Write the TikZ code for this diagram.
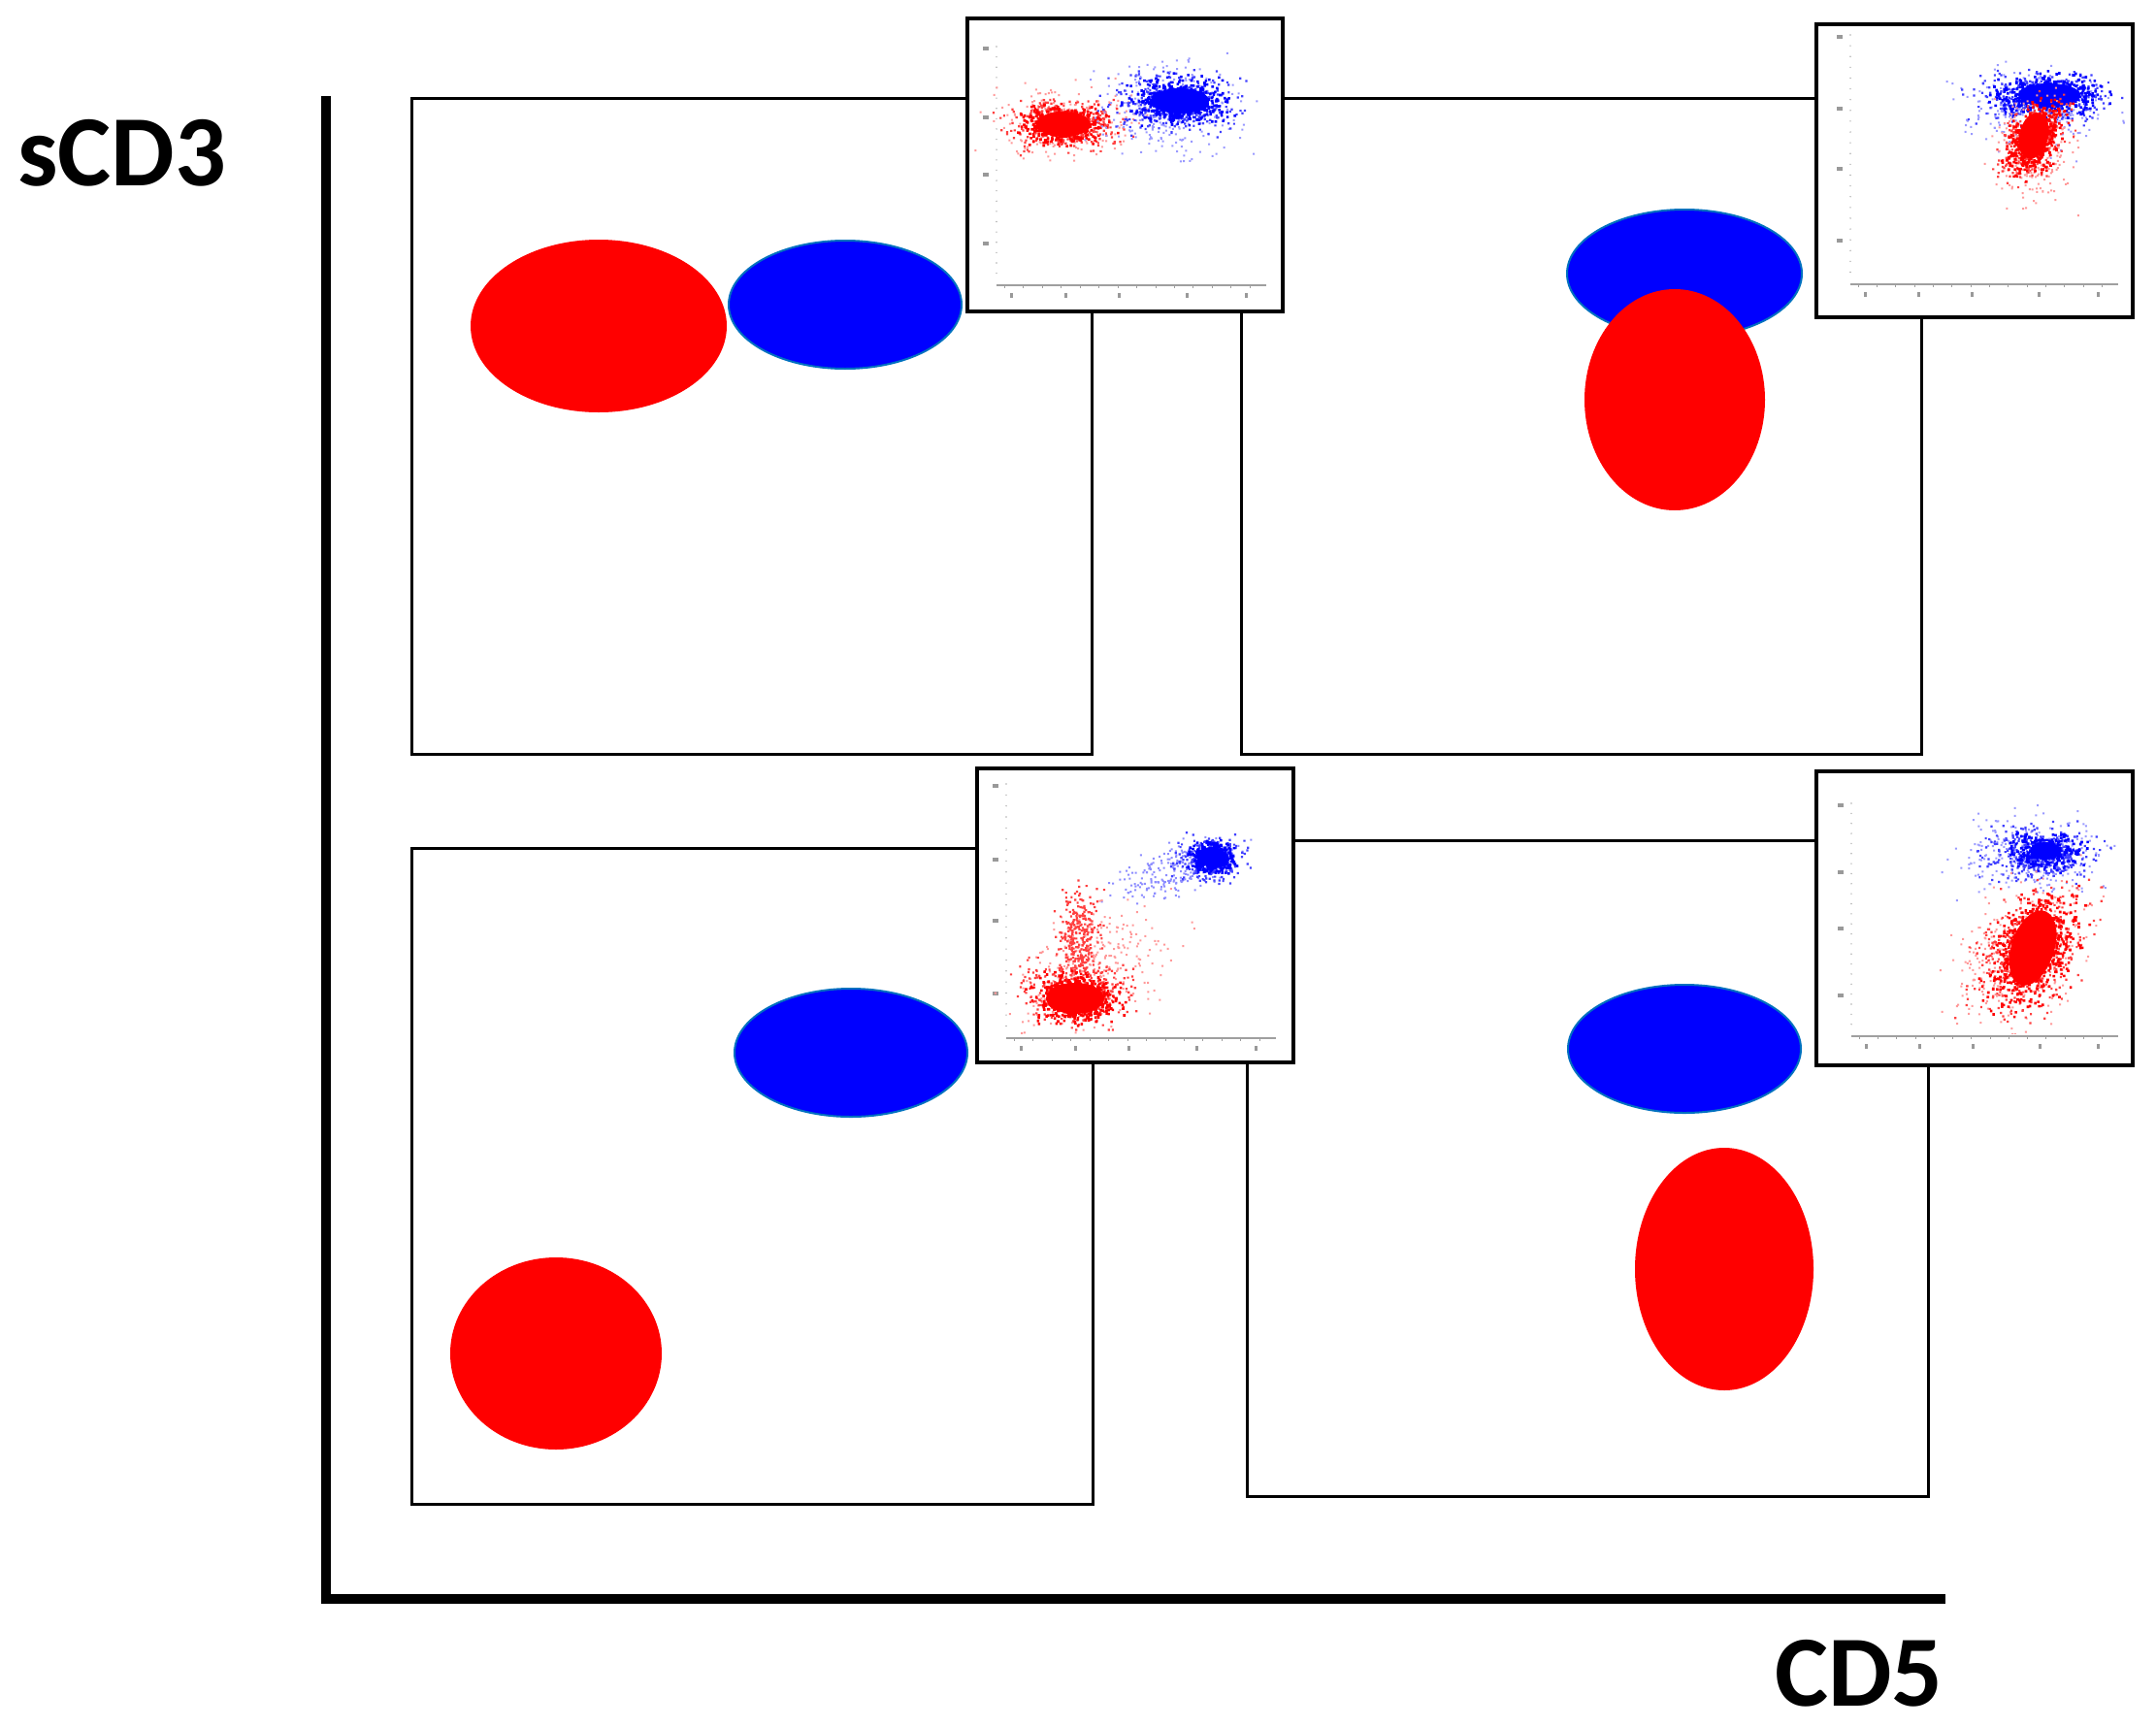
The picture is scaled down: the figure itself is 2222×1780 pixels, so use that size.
\documentclass[tikz,border=0pt]{standalone}
\usepackage{fontspec}
\setmainfont{Carlito}
\usetikzlibrary{shapes.geometric}
\definecolor{popred}{RGB}{255,0,0}
\definecolor{popblue}{RGB}{0,0,255}
\definecolor{popedge}{RGB}{0,112,192}
\tikzset{
  panel/.style={draw=black, line width=3pt, line join=miter},
  inset/.style={draw=black, fill=white, line width=4pt, rectangle, inner sep=0pt, line join=miter},
  redpop/.style={ellipse, fill=popred, draw=none, inner sep=0pt},
  bluepop/.style={ellipse, fill=popblue, draw=popedge, line width=2pt, inner sep=0pt},
  axislabel/.style={anchor=base west, inner sep=0pt, font=\fontsize{104}{104}\selectfont\bfseries}
}
% cluster: cx cy sx sy slope n colour dotsize
\newcommand\mycluster[8]{%
  \fill[#7] \foreach \i [evaluate=\i as \yy using {#2+#4*(rand+rand+rand)},
                          evaluate=\i as \xx using {#1+#3*(rand+rand+rand)+#5*(\yy-(#2))}]
     in {1,...,#6} { (\xx,\yy) rectangle ++(#8,#8) };
}
% dense core: cx cy rx ry angle colour
\newcommand\mycore[6]{%
  \fill[#6, rotate around={#5:(#1,#2)}] (#1,#2) ellipse [x radius=#3pt, y radius=#4pt];
}
% plot axes: x0 yaxis x1 ytop
\newcommand\myplotaxes[4]{%
  \draw[gray!75, line width=1.5pt] (#1,#2) -- (#3,#2);
  \foreach \t in {0.03,0.1,...,0.98} \draw[gray!75, line width=1pt] ({#1+(#3-#1)*\t},#2) -- ++(0,3);
  \foreach \t in {0,0.045,...,1.0} \fill[gray!60] (#1,{#4+(#2-10-#4)*\t}) circle (0.8pt);
  \foreach \t in {0.05,0.25,0.45,0.7,0.92} \fill[gray!80] ({#1+(#3-#1)*\t},{#2+8}) rectangle ++(3,5);
  \foreach \t in {0.0,0.3,0.55,0.85} \fill[gray!80] ({#1-14},{#4+(#2-10-#4)*\t}) rectangle ++(6,4);
}
\begin{document}
\begin{tikzpicture}[x=1pt,y=-1pt]
\useasboundingbox (0,0) rectangle (2222,1780);
\fill[white] (0,0) rectangle (2222,1780);
\pgfmathsetseed{4242}

% main axes
\coordinate (ytop) at (336,99);
\coordinate (orig) at (336,1648);
\coordinate (xend) at (2005,1648);
\draw[line width=10pt, line join=miter] (ytop) -- (orig) -- (xend);
\node[axislabel] (ylab) at (18,191) {sCD3};
\node[axislabel] (xlab) at (1829,1758) {CD5};

% panels
\draw[panel] (424,101) rectangle (1125,777);
\draw[panel] (1279,101) rectangle (1980,777);
\draw[panel] (424,874) rectangle (1126,1550);
\draw[panel] (1285,866) rectangle (1987,1542);

% schematic populations
\node[redpop, minimum width=264pt, minimum height=178pt] (tlred) at (617,336) {};
\node[bluepop, minimum width=240pt, minimum height=132pt] (tlblue) at (871,314) {};
\node[bluepop, minimum width=242pt, minimum height=132pt] (trblue) at (1736,282) {};
\node[redpop, minimum width=186pt, minimum height=228pt] (trred) at (1726,412) {};
\node[bluepop, minimum width=240pt, minimum height=132pt] (blblue) at (877,1085) {};
\node[redpop, minimum width=218pt, minimum height=198pt] (blred) at (573,1395) {};
\node[bluepop, minimum width=240pt, minimum height=132pt] (brblue) at (1736,1081) {};
\node[redpop, minimum width=184pt, minimum height=250pt] (brred) at (1777,1308) {};

% insets
\node[inset, minimum width=325pt, minimum height=302pt] (tlin) at (1159.5,170) {};
\node[inset, minimum width=326pt, minimum height=302pt] (trin) at (2035,176) {};
\node[inset, minimum width=326pt, minimum height=303pt] (blin) at (1170,943.5) {};
\node[inset, minimum width=326pt, minimum height=303pt] (brin) at (2035,946.5) {};

% inset TL
\myplotaxes{1027}{294}{1305}{48}
\begin{scope}
\clip (1000,22) rectangle (1319,291);
\mycluster{1095}{124}{36}{18}{0}{220}{popred!40}{2}
\mycluster{1095}{127}{27}{12}{0}{380}{popred!75}{2.2}
\mycore{1096}{128}{28}{13}{0}{popred}
\mycluster{1095}{127}{20}{9}{0}{550}{popred}{2.6}
\mycluster{1205}{114}{36}{23}{0}{260}{popblue!40}{2}
\mycluster{1210}{106}{30}{14}{0}{380}{popblue!75}{2.2}
\mycore{1216}{104}{30}{13}{0}{popblue}
\mycluster{1215}{103}{22}{10}{0}{550}{popblue}{2.6}
\end{scope}

% inset TR
\myplotaxes{1907}{293}{2183}{36}
\begin{scope}
\clip (1875,28) rectangle (2195,290);
\mycluster{2095}{110}{38}{20}{0}{260}{popblue!40}{2}
\mycluster{2105}{100}{32}{12}{0}{380}{popblue!75}{2.2}
\mycore{2112}{98}{32}{12}{0}{popblue}
\mycluster{2110}{97}{24}{9}{0}{500}{popblue}{2.6}
\mycluster{2095}{152}{20}{26}{0}{220}{popred!40}{2}
\mycluster{2095}{143}{15}{19}{-0.3}{380}{popred!75}{2.2}
\mycore{2096}{140}{15}{24}{-14}{popred}
\mycluster{2095}{141}{12}{16}{-0.3}{550}{popred}{2.6}
\end{scope}

% inset BL
\myplotaxes{1037}{1070}{1315}{808}
\begin{scope}
\clip (1010,795) rectangle (1330,1067);
\mycluster{1212}{895}{25}{14}{-1.0}{240}{popblue!45}{2}
\mycluster{1245}{885}{16}{11}{0}{300}{popblue!75}{2.2}
\mycore{1249}{883}{15}{10}{0}{popblue}
\mycluster{1248}{883}{10}{7}{0}{450}{popblue}{2.6}
\mycluster{1125}{1000}{35}{30}{-0.5}{300}{popred!40}{2}
\mycluster{1110}{965}{10}{24}{0}{300}{popred!75}{2.2}
\mycluster{1110}{1022}{26}{15}{0}{400}{popred!75}{2.2}
\mycore{1108}{1029}{30}{16}{0}{popred}
\mycluster{1108}{1028}{19}{11}{0}{600}{popred}{2.6}
\end{scope}

% inset BR
\myplotaxes{1908}{1068}{2183}{828}
\begin{scope}
\clip (1875,798) rectangle (2195,1065);
\mycluster{2095}{880}{36}{19}{0}{260}{popblue!40}{2}
\mycluster{2103}{879}{26}{13}{0}{400}{popblue!75}{2.2}
\mycore{2108}{877}{16}{9}{0}{popblue}
\mycluster{2108}{877}{16}{8}{0}{300}{popblue}{2.6}
\mycluster{2080}{985}{32}{36}{-0.3}{300}{popred!40}{2}
\mycluster{2092}{978}{24}{30}{-0.35}{500}{popred!75}{2.2}
\mycore{2095}{977}{22}{40}{-18}{popred}
\mycluster{2095}{978}{19}{26}{-0.35}{700}{popred}{2.6}
\end{scope}
\end{tikzpicture}
\end{document}
